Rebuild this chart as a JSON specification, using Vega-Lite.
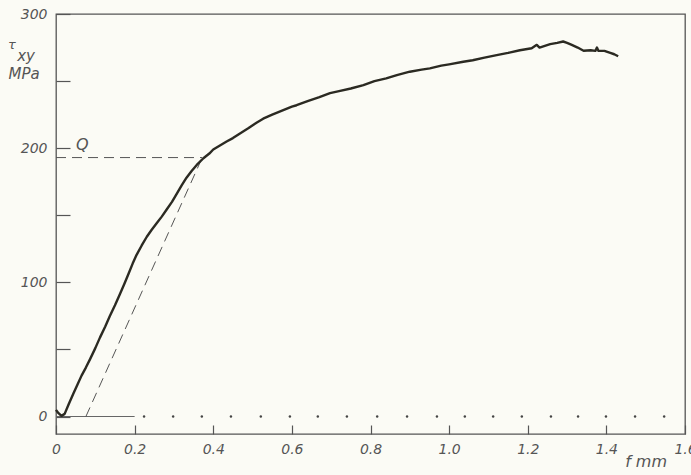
{
  "$schema": "https://vega.github.io/schema/vega-lite/v6.json",
  "width": 629,
  "height": 420,
  "autosize": {"type": "none"},
  "padding": {"left": 56, "top": 14, "right": 6, "bottom": 41},
  "background": "#fbfbf5",
  "config": {
    "view": {"stroke": "#555", "strokeWidth": 1.3},
    "axis": {"domain": false, "grid": false, "labelFont": "DejaVu Sans", "labelFontStyle": "italic", "labelFontSize": 14, "labelColor": "#555", "tickColor": "#555", "tickWidth": 1.2}
  },
  "datasets": {
    "curve": [
      {"f": 0.0, "tau": 5}, {"f": 0.005, "tau": 3}, {"f": 0.014, "tau": 0.5}, {"f": 0.022, "tau": 2},
      {"f": 0.032, "tau": 9}, {"f": 0.044, "tau": 17}, {"f": 0.055, "tau": 24}, {"f": 0.065, "tau": 30.5},
      {"f": 0.076, "tau": 36.5}, {"f": 0.087, "tau": 43}, {"f": 0.1, "tau": 51}, {"f": 0.112, "tau": 59},
      {"f": 0.125, "tau": 67}, {"f": 0.137, "tau": 75}, {"f": 0.15, "tau": 83}, {"f": 0.163, "tau": 91.5},
      {"f": 0.174, "tau": 99}, {"f": 0.184, "tau": 106}, {"f": 0.195, "tau": 114}, {"f": 0.205, "tau": 120.5},
      {"f": 0.218, "tau": 127.5}, {"f": 0.231, "tau": 134}, {"f": 0.243, "tau": 139}, {"f": 0.256, "tau": 144},
      {"f": 0.269, "tau": 149}, {"f": 0.282, "tau": 154.5}, {"f": 0.295, "tau": 160}, {"f": 0.307, "tau": 166},
      {"f": 0.32, "tau": 172.5}, {"f": 0.332, "tau": 178}, {"f": 0.345, "tau": 183}, {"f": 0.358, "tau": 187.5},
      {"f": 0.375, "tau": 192.5}, {"f": 0.39, "tau": 196}, {"f": 0.4, "tau": 199}, {"f": 0.417, "tau": 202},
      {"f": 0.434, "tau": 205}, {"f": 0.45, "tau": 207.5}, {"f": 0.468, "tau": 211}, {"f": 0.49, "tau": 215},
      {"f": 0.51, "tau": 219}, {"f": 0.527, "tau": 222}, {"f": 0.55, "tau": 225}, {"f": 0.575, "tau": 228},
      {"f": 0.6, "tau": 231}, {"f": 0.612, "tau": 232}, {"f": 0.64, "tau": 235}, {"f": 0.67, "tau": 238},
      {"f": 0.697, "tau": 241}, {"f": 0.72, "tau": 242.5}, {"f": 0.75, "tau": 244.5}, {"f": 0.782, "tau": 247},
      {"f": 0.81, "tau": 250}, {"f": 0.84, "tau": 252}, {"f": 0.867, "tau": 254.5}, {"f": 0.9, "tau": 257},
      {"f": 0.93, "tau": 258.5}, {"f": 0.951, "tau": 259.5}, {"f": 0.98, "tau": 261.5}, {"f": 1.0, "tau": 262.5},
      {"f": 1.036, "tau": 264.4}, {"f": 1.06, "tau": 265.5}, {"f": 1.09, "tau": 267.5}, {"f": 1.121, "tau": 269.4},
      {"f": 1.15, "tau": 271}, {"f": 1.18, "tau": 273}, {"f": 1.21, "tau": 274.5}, {"f": 1.223, "tau": 277},
      {"f": 1.23, "tau": 275}, {"f": 1.257, "tau": 277.5}, {"f": 1.275, "tau": 278.5}, {"f": 1.29, "tau": 279.5},
      {"f": 1.3, "tau": 278.5}, {"f": 1.312, "tau": 277}, {"f": 1.327, "tau": 275}, {"f": 1.342, "tau": 272.6},
      {"f": 1.36, "tau": 273}, {"f": 1.372, "tau": 272.5}, {"f": 1.376, "tau": 275}, {"f": 1.38, "tau": 272.5},
      {"f": 1.395, "tau": 272.5}, {"f": 1.41, "tau": 271}, {"f": 1.42, "tau": 270}, {"f": 1.43, "tau": 268.5}
    ],
    "guides": [
      {"g": "h", "f": 0, "tau": 193}, {"g": "h", "f": 0.372, "tau": 193},
      {"g": "s", "f": 0.076, "tau": 0}, {"g": "s", "f": 0.372, "tau": 193}
    ],
    "zero": [{"f": 0, "tau": 0}, {"f": 0.2, "tau": 0}],
    "dots": [
      {"f": 0.224}, {"f": 0.298}, {"f": 0.371}, {"f": 0.445}, {"f": 0.521}, {"f": 0.595}, {"f": 0.666},
      {"f": 0.74}, {"f": 0.817}, {"f": 0.893}, {"f": 0.969}, {"f": 1.04}, {"f": 1.112}, {"f": 1.185},
      {"f": 1.259}, {"f": 1.328}, {"f": 1.399}, {"f": 1.473}, {"f": 1.547}
    ],
    "labels": [
      {"f": -0.112, "tau": 277, "t": "τ", "s": 13},
      {"f": -0.076, "tau": 268.5, "t": "xy", "s": 15},
      {"f": -0.081, "tau": 255, "t": "MPa", "s": 15},
      {"f": 0.067, "tau": 202.4, "t": "Q", "s": 16},
      {"f": 1.501, "tau": -33.8, "t": "f  mm", "s": 16}
    ]
  },
  "layer": [
    {
      "data": {"name": "zero"},
      "mark": {"type": "line", "color": "#666", "strokeWidth": 1.1},
      "encoding": {
        "x": {"field": "f", "type": "quantitative", "scale": {"domain": [0, 1.6], "nice": false},
          "axis": {"values": [0, 0.2, 0.4, 0.6, 0.8, 1.0, 1.2, 1.4, 1.6], "tickSize": -9, "labelPadding": 17, "title": null,
            "labelExpr": "datum.value == 0 ? '0' : format(datum.value, '.1f')", "labelFlush": false}},
        "y": {"field": "tau", "type": "quantitative", "scale": {"domain": [-13, 300], "nice": false, "zero": false},
          "axis": {"values": [0, 50, 100, 150, 200, 250, 300], "tickSize": -14, "labelPadding": 23, "title": null,
            "labelExpr": "datum.value % 100 == 0 ? datum.value : ''", "labelFlush": false}}
      }
    },
    {
      "data": {"name": "dots"},
      "mark": {"type": "point", "filled": true, "color": "#444", "size": 6, "opacity": 1},
      "encoding": {
        "x": {"field": "f", "type": "quantitative"},
        "y": {"datum": 0}
      }
    },
    {
      "data": {"name": "guides"},
      "mark": {"type": "line", "color": "#555", "strokeWidth": 1, "strokeDash": [10, 6]},
      "encoding": {
        "x": {"field": "f", "type": "quantitative"},
        "y": {"field": "tau", "type": "quantitative"},
        "detail": {"field": "g"}
      }
    },
    {
      "data": {"name": "curve"},
      "mark": {"type": "line", "color": "#2b2a22", "strokeWidth": 2.4, "strokeJoin": "round"},
      "encoding": {
        "x": {"field": "f", "type": "quantitative"},
        "y": {"field": "tau", "type": "quantitative"}
      }
    },
    {
      "data": {"name": "labels"},
      "mark": {"type": "text", "font": "DejaVu Sans", "fontStyle": "italic", "color": "#555", "align": "center", "baseline": "middle"},
      "encoding": {
        "x": {"field": "f", "type": "quantitative"},
        "y": {"field": "tau", "type": "quantitative"},
        "text": {"field": "t"},
        "size": {"field": "s", "type": "quantitative", "scale": null}
      }
    }
  ]
}
